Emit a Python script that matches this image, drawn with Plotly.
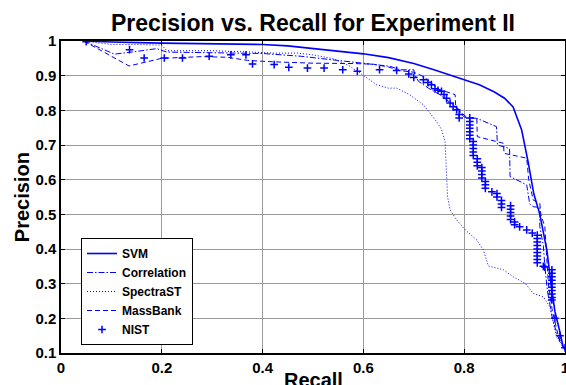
import plotly.graph_objects as go

# ---------------- data ----------------
svm_recall = [0.045, 0.1, 0.2, 0.3, 0.4, 0.45, 0.5, 0.55, 0.6, 0.65, 0.7, 0.74, 0.78, 0.8, 0.83,
              0.86, 0.88, 0.897, 0.905, 0.914, 0.927, 0.938, 0.95, 0.964, 0.973, 0.98, 0.99, 0.996, 1.0]
svm_precision = [1.0, 0.997, 0.994, 0.992, 0.99, 0.986, 0.978, 0.972, 0.963, 0.952, 0.935, 0.917, 0.898, 0.888, 0.874,
                 0.853, 0.835, 0.81, 0.78, 0.743, 0.65, 0.56, 0.5, 0.397, 0.29, 0.22, 0.16, 0.12, 0.11]

corr_recall = [0.045, 0.07, 0.106, 0.15, 0.19, 0.21, 0.3, 0.4, 0.476, 0.6, 0.653, 0.673, 0.7, 0.702, 0.709, 0.729,
               0.752, 0.778, 0.79, 0.798, 0.805, 0.825, 0.864, 0.866, 0.89, 0.891, 0.924, 0.93, 0.937, 0.95,
               0.95, 0.957, 0.96, 0.965, 0.975, 0.985, 1.0]
corr_precision = [1.0, 0.985, 0.962, 0.97, 0.978, 0.968, 0.966, 0.964, 0.956, 0.937, 0.927, 0.917, 0.917, 0.903, 0.884, 0.864,
                  0.845, 0.816, 0.8, 0.783, 0.778, 0.777, 0.753, 0.70, 0.69, 0.609, 0.585, 0.53, 0.522, 0.52,
                  0.465, 0.41, 0.35, 0.28, 0.2, 0.15, 0.11]

spec_recall = [0.045, 0.07, 0.1, 0.15, 0.2, 0.21, 0.3, 0.38, 0.42, 0.47, 0.5, 0.54, 0.57, 0.593, 0.626, 0.65, 0.666,
               0.692, 0.719, 0.745, 0.755, 0.762, 0.764, 0.767, 0.772, 0.785, 0.802, 0.825, 0.838, 0.848, 0.878,
               0.897, 0.921, 0.937, 0.957, 0.97, 0.977, 0.983, 0.997, 1.0]
spec_precision = [1.0, 0.995, 0.99, 0.99, 0.988, 0.972, 0.972, 0.968, 0.965, 0.965, 0.96, 0.949, 0.93, 0.908, 0.874, 0.864, 0.864,
                  0.845, 0.816, 0.768, 0.745, 0.71, 0.65, 0.551, 0.513, 0.484, 0.455, 0.426, 0.397, 0.351, 0.34,
                  0.32, 0.301, 0.272, 0.262, 0.234, 0.186, 0.147, 0.118, 0.11]

mass_recall = [0.045, 0.135, 0.2, 0.28, 0.33, 0.37, 0.42, 0.5, 0.58, 0.62, 0.65, 0.67, 0.70, 0.72, 0.735, 0.752,
               0.775, 0.782, 0.783, 0.792, 0.805, 0.825, 0.826, 0.878, 0.879, 0.924, 0.928, 0.937, 0.95, 0.952,
               0.96, 0.963, 0.967, 0.975, 0.985, 0.99, 1.0]
mass_precision = [1.0, 0.928, 0.95, 0.955, 0.953, 0.944, 0.94, 0.936, 0.935, 0.933, 0.925, 0.915, 0.91, 0.897, 0.878, 0.859,
                  0.849, 0.845, 0.815, 0.796, 0.78, 0.777, 0.724, 0.705, 0.676, 0.662, 0.60, 0.541, 0.532, 0.50,
                  0.464, 0.40, 0.30, 0.22, 0.16, 0.13, 0.11]

nist_recall = [0.05, 0.136, 0.165, 0.205, 0.241, 0.294, 0.337, 0.367, 0.38, 0.423, 0.452, 0.489, 0.522, 0.559,
               0.588, 0.632, 0.666, 0.69, 0.70, 0.719, 0.728, 0.735, 0.742, 0.748, 0.755, 0.76, 0.765, 0.772,
               0.778, 0.785, 0.79, 0.79,
               0.811, 0.811, 0.811, 0.811, 0.811, 0.811, 0.811,
               0.818, 0.818, 0.818, 0.818, 0.818,
               0.826, 0.826, 0.826,
               0.835, 0.835, 0.835, 0.835,
               0.842, 0.842, 0.842,
               0.855, 0.865, 0.865,
               0.874, 0.874, 0.874,
               0.892, 0.892, 0.892, 0.892, 0.892,
               0.9, 0.9, 0.91, 0.924, 0.935,
               0.945, 0.945, 0.945, 0.945, 0.945, 0.945, 0.945, 0.945, 0.945,
               0.957, 0.96,
               0.974, 0.974, 0.974, 0.974, 0.974, 0.974, 0.974, 0.974, 0.974, 0.974,
               0.98, 0.99, 1.0]
nist_precision = [0.998, 0.975, 0.951, 0.951, 0.951, 0.956, 0.96, 0.96, 0.934, 0.932, 0.924, 0.922, 0.922, 0.917,
                  0.913, 0.917, 0.915, 0.905, 0.895, 0.888, 0.88, 0.874, 0.862, 0.858, 0.855, 0.846, 0.835, 0.821,
                  0.81, 0.802, 0.788, 0.778,
                  0.778, 0.768, 0.758, 0.748, 0.738, 0.728, 0.718,
                  0.71, 0.70, 0.69, 0.68, 0.67,
                  0.66, 0.65, 0.64,
                  0.635, 0.625, 0.615, 0.605,
                  0.595, 0.585, 0.575,
                  0.565, 0.56, 0.55,
                  0.54, 0.53, 0.52,
                  0.525, 0.515, 0.505, 0.495, 0.485,
                  0.478, 0.47, 0.464, 0.455, 0.446,
                  0.44, 0.43, 0.42, 0.41, 0.40, 0.39, 0.38, 0.37, 0.36,
                  0.35, 0.348,
                  0.34, 0.33, 0.32, 0.31, 0.30, 0.29, 0.28, 0.27, 0.26, 0.253,
                  0.2, 0.15, 0.115]

x_ticks = [0, 0.2, 0.4, 0.6, 0.8, 1.0]
x_tick_labels = ["0", "0.2", "0.4", "0.6", "0.8", "1"]
y_ticks = [0.1, 0.2, 0.3, 0.4, 0.5, 0.6, 0.7, 0.8, 0.9, 1.0]
y_tick_labels = ["0.1", "0.2", "0.3", "0.4", "0.5", "0.6", "0.7", "0.8", "0.9", "1"]

# ---------------- figure ----------------
BLUE = "#0000ff"
FONT = "Liberation Sans, Arial, sans-serif"

fig = go.Figure()
fig.add_trace(go.Scatter(x=svm_recall, y=svm_precision, mode="lines", name="SVM",
                         line=dict(color=BLUE, width=1.6)))
fig.add_trace(go.Scatter(x=corr_recall, y=corr_precision, mode="lines", name="Correlation",
                         line=dict(color=BLUE, width=1, dash="6px,2px,1.5px,2px")))
fig.add_trace(go.Scatter(x=spec_recall, y=spec_precision, mode="lines", name="SpectraST",
                         line=dict(color=BLUE, width=1, dash="1px,2px")))
fig.add_trace(go.Scatter(x=mass_recall, y=mass_precision, mode="lines", name="MassBank",
                         line=dict(color=BLUE, width=1, dash="5px,3px")))
fig.add_trace(go.Scatter(x=nist_recall, y=nist_precision, mode="markers", name="NIST",
                         marker=dict(symbol="cross-thin-open", size=5.5, color=BLUE,
                                     line=dict(color=BLUE, width=1.5))))

axis_common = dict(
    showline=True, linecolor="black", linewidth=1.5, mirror="ticks",
    ticks="inside", ticklen=4, tickwidth=1, tickcolor="black",
    showgrid=True, gridcolor="#9a9a9a", gridwidth=1, zeroline=False,
    ticklabeloverflow="allow",
    tickfont=dict(family=FONT, size=15, color="black", weight="bold"),
)

fig.update_xaxes(range=[0, 1], tickvals=x_ticks, ticktext=x_tick_labels, **axis_common)
fig.update_yaxes(range=[0.1, 1], tickvals=y_ticks, ticktext=y_tick_labels, **axis_common)

fig.update_layout(
    width=566, height=385,
    margin=dict(l=61, r=1, t=41, b=32, autoexpand=False),
    plot_bgcolor="white", paper_bgcolor="white",
    font=dict(family=FONT, color="black"),
    title=dict(text="<b>Precision vs. Recall for Experiment II</b>", x=0.5, xref="paper",
               y=1 - 23 / 385, yref="container", yanchor="middle",
               font=dict(family=FONT, size=23, color="black")),
    showlegend=True,
    legend=dict(x=0.0397, y=0.3686, xanchor="left", yanchor="top",
                bgcolor="white", bordercolor="black", borderwidth=1,
                font=dict(family=FONT, size=12, color="black", weight="bold"),
                itemwidth=30, tracegroupgap=0),
    annotations=[
        dict(text="<b>Recall</b>", x=0.5, xref="paper", y=-0.045, yref="paper",
             xanchor="center", yanchor="top", showarrow=False,
             font=dict(family=FONT, size=20, color="black")),
        dict(text="<b>Precision</b>", x=-0.077, xref="paper", y=0.5, yref="paper",
             xanchor="center", yanchor="middle", showarrow=False, textangle=-90,
             font=dict(family=FONT, size=20, color="black")),
    ],
)

fig.write_html("out.html", config={"displayModeBar": False},
               post_script="document.body.style.margin='0';document.body.style.overflow='hidden';")
